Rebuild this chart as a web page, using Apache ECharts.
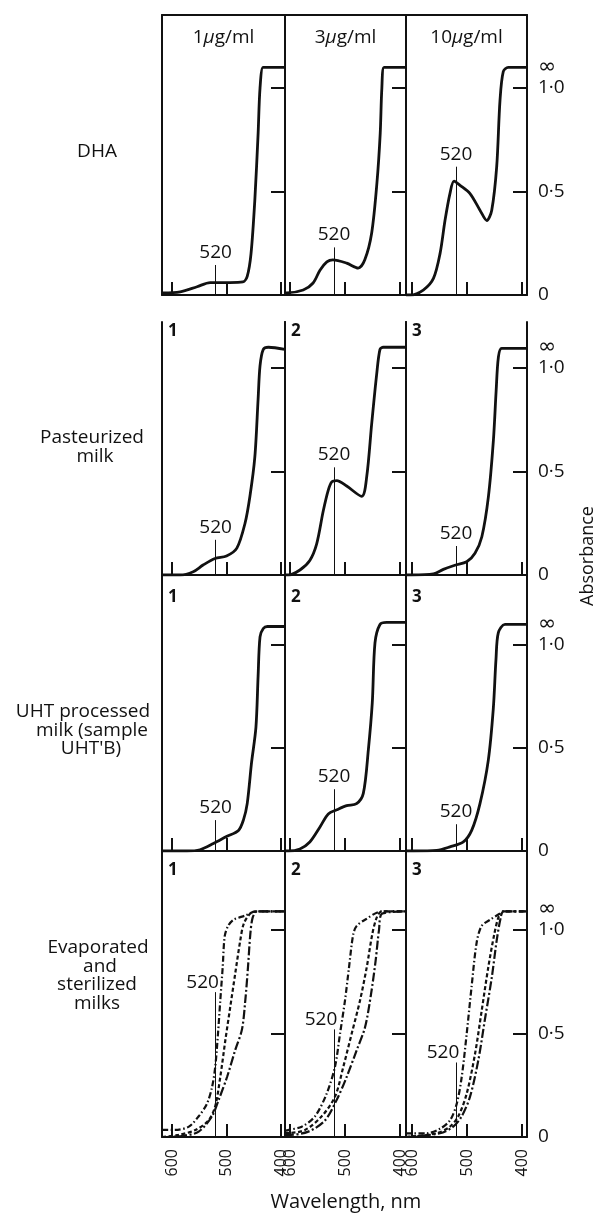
<!DOCTYPE html>
<html><head><meta charset="utf-8">
<script src="https://cdn.jsdelivr.net/npm/echarts@6/dist/echarts.min.js"></script>
<style>html,body{margin:0;padding:0;background:#fff}#c{width:598px;height:1216px}</style>
</head><body><div id="c"></div>
<script>
// ---------- tick labels / text ----------
const wavelengthTicks = [600, 500, 400];
const absorbanceTicks = [0, 0.5, 1.0, 1.1];
const absorbanceTickLabels = ['0', '0·5', '1·0', '{inf|∞}'];
const innerAbsTicks = [0.5, 1.0];
const markerWavelength = 520;
const columnHeaders = ['1{i|μ}g/ml', '3{i|μ}g/ml', '10{i|μ}g/ml'];
const panelNumbers = ['1', '2', '3'];
const rowLabels = [
  ['DHA'],
  ['Pasteurized', 'milk'],
  ['UHT processed', 'milk (sample', "UHT'B)"],
  ['Evaporated', 'and', 'sterilized', 'milks']
];
const xAxisName = 'Wavelength, nm';
const yAxisName = 'Absorbance';

// ---------- series values: [wavelength nm, absorbance] ----------
const dha1 = [[618,0.01],[616.5,0.01],[585,0.015],[554,0.04],[530,0.06],[515,0.06],[494,0.06],[470,0.063],[462,0.09],[455,0.2],[448,0.46],[442,0.78],[438.5,1.0],[433,1.1],[426,1.1],[393,1.1]];
const dha3 = [[609,0.01],[606,0.01],[576,0.024],[558,0.058],[545.5,0.12],[533,0.16],[522,0.17],[497,0.154],[476,0.13],[464,0.17],[451.5,0.30],[442,0.54],[436,0.78],[433,1.0],[429,1.1],[418,1.1],[389,1.1]];
const dha10 = [[611,0],[603.6,0],[579.5,0.024],[561,0.08],[549,0.20],[540,0.36],[531,0.49],[523.6,0.55],[512.7,0.53],[494.5,0.49],[476.4,0.41],[464,0.36],[455,0.41],[446,0.62],[440,0.94],[434,1.08],[425,1.1],[391,1.1]];

const past1 = [[618,0],[585,0],[561,0.016],[543,0.048],[521,0.08],[500,0.092],[481,0.13],[466,0.25],[457,0.38],[448,0.57],[442,0.85],[438.5,1.01],[432.5,1.09],[423,1.1],[393,1.09]];
const past2 = [[609,0],[603,0],[582,0.024],[564,0.07],[551.5,0.15],[539.5,0.31],[530.4,0.41],[524,0.45],[515,0.456],[497,0.43],[469.6,0.38],[460.5,0.475],[451.5,0.73],[442.4,0.97],[436.4,1.09],[430.4,1.1],[389,1.1]];
const past3 = [[611,0],[600.5,0],[561,0.005],[543,0.027],[522,0.047],[500.5,0.064],[485.5,0.105],[473,0.185],[461,0.38],[452,0.65],[447,0.89],[443,1.05],[437,1.095],[391,1.095]];

const uht1 = [[618,0],[573,0],[548.6,0.006],[524,0.036],[500,0.07],[478,0.10],[469,0.15],[462,0.23],[454,0.43],[446,0.60],[442,0.85],[438.5,1.04],[432.5,1.08],[425,1.09],[393,1.09]];
const uht2 = [[609,0],[603,0],[582,0.01],[564,0.044],[545.5,0.117],[530.4,0.18],[515,0.20],[497,0.22],[479,0.23],[466.7,0.28],[457.6,0.49],[450.4,0.72],[445.5,1.01],[436.4,1.10],[424,1.11],[389,1.11]];
const uht3 = [[611,0],[597.6,0],[555,0.003],[531,0.02],[506.7,0.044],[491.5,0.10],[476.4,0.23],[461.3,0.44],[452.2,0.69],[447.3,0.93],[443,1.06],[431,1.10],[391,1.10]];

const evapA1 = [[618,0.034],[594,0.034],[569,0.05],[551,0.10],[536,0.16],[526.6,0.24],[520.6,0.34],[515.6,0.50],[511.4,0.66],[507,0.82],[503.3,0.97],[497,1.02],[487,1.05],[465.5,1.07],[447,1.09],[393,1.09]];
const evapB1 = [[618,0],[588,0.01],[557,0.034],[533,0.08],[520.6,0.15],[511.4,0.29],[502,0.47],[493,0.63],[484,0.79],[474.7,0.95],[468.4,1.03],[456.3,1.08],[444,1.09],[393,1.09]];
const evapC1 = [[618,0],[582,0.005],[551,0.026],[526.6,0.10],[514.3,0.18],[499,0.29],[484,0.42],[471.6,0.52],[465.5,0.66],[460.6,0.82],[456.3,0.98],[452,1.06],[444,1.09],[393,1.09]];

const evapA2 = [[609,0.03],[603,0.034],[578.7,0.05],[554.5,0.10],[533.3,0.21],[518.2,0.34],[509,0.50],[500,0.66],[492.7,0.82],[485,0.98],[478.7,1.02],[463.6,1.05],[433.3,1.09],[389,1.09]];
const evapB2 = [[609,0.02],[603,0.02],[572.7,0.034],[542.4,0.10],[518.2,0.195],[503,0.34],[487.8,0.50],[472.7,0.66],[460.5,0.82],[450.4,0.98],[442.4,1.06],[433.3,1.09],[389,1.09]];
const evapC2 = [[609,0.01],[603,0.01],[566.7,0.026],[536.4,0.08],[515,0.18],[497,0.29],[478.7,0.42],[463.6,0.53],[452.7,0.69],[444.2,0.855],[438.2,1.0],[432.2,1.08],[389,1.09]];

const evapA3 = [[611,0.018],[573.3,0.018],[549,0.04],[531,0.08],[518.7,0.16],[509.6,0.29],[500.5,0.50],[491.5,0.73],[482.4,0.94],[473.3,1.02],[458,1.05],[440,1.08],[434,1.09],[391,1.09]];
const evapB3 = [[611,0],[555,0.018],[531,0.05],[515.8,0.10],[500.5,0.21],[485.5,0.40],[473.3,0.61],[461.3,0.82],[450.4,0.98],[443,1.06],[437,1.08],[434,1.09],[391,1.09]];
const evapC3 = [[611,0],[549,0.018],[525,0.05],[509.6,0.10],[494.5,0.195],[479.5,0.37],[467.3,0.57],[455,0.77],[446,0.95],[438.7,1.06],[434,1.09],[391,1.09]];

// height (absorbance) reached by the 520 nm marker line in each panel [row][col]
const markerTops = [[0.145,0.23,0.62],[0.17,0.52,0.14],[0.15,0.30,0.13],[0.70,0.52,0.36]];

// ---------- layout ----------
const FONT = '"Open Sans", Lato, sans-serif';
const INK = '#111';
const colLeft = [162, 285, 406], colWidth = [123, 121, 121];
const rowTop = [15, 322, 575, 851], rowHeight = [280, 253, 276, 286];
const xMaxs = [618.35, 609.1, 610.9], xMins = [392.66, 389.1, 390.9];
const yMaxs = [1.353, 1.222, 1.34, 1.382];

const singleRows = [[dha1, dha3, dha10], [past1, past2, past3], [uht1, uht2, uht3]];
const evapRows = [[evapA1, evapB1, evapC1], [evapA2, evapB2, evapC2], [evapA3, evapB3, evapC3]];
const evapDash = [[6,2.5,1.5,2.5],[4,2.5],[9,2.5,2,2.5]];

const grids = [], xAxes = [], yAxes = [], series = [], graphics = [];

for (let r = 0; r < 4; r++) {
  for (let c = 0; c < 3; c++) {
    const g = grids.length;
    grids.push({left: colLeft[c], top: rowTop[r], width: colWidth[c], height: rowHeight[r], containLabel: false});
    const xi = xAxes.length;
    xAxes.push({
      type: 'value', gridIndex: g, min: xMins[c], max: xMaxs[c], inverse: true, position: 'bottom',
      axisLine: {show: true, onZero: false, lineStyle: {color: INK, width: 2}},
      axisTick: {show: true, inside: true, length: 13, customValues: wavelengthTicks, lineStyle: {color: INK, width: 2}},
      axisLabel: {show: r === 3, rotate: 90, customValues: wavelengthTicks, margin: 12, fontSize: 16, color: INK, fontFamily: FONT},
      splitLine: {show: false}
    });
    if (r === 0) {
      xAxes.push({
        type: 'value', gridIndex: g, min: xMins[c], max: xMaxs[c], inverse: true, position: 'top',
        axisLine: {show: true, onZero: false, lineStyle: {color: INK, width: 2}},
        axisTick: {show: false}, axisLabel: {show: false}, splitLine: {show: false}
      });
    }
    yAxes.push({
      type: 'value', gridIndex: g, min: 0, max: yMaxs[r], position: 'left',
      axisLine: {show: true, onZero: false, lineStyle: {color: INK, width: 2}},
      axisTick: {show: false}, axisLabel: {show: false}, splitLine: {show: false}
    });
    const yi = yAxes.length;
    yAxes.push({
      type: 'value', gridIndex: g, min: 0, max: yMaxs[r], position: 'right',
      axisLine: {show: true, onZero: false, lineStyle: {color: INK, width: 2}},
      axisTick: {show: true, inside: true, length: 14, customValues: innerAbsTicks, lineStyle: {color: INK, width: 2}},
      axisLabel: {
        show: c === 2, customValues: absorbanceTicks, margin: 11, fontSize: 19, lineHeight: 16, color: INK, fontFamily: FONT,
        hideOverlap: false, showMaxLabel: true, showMinLabel: true,
        rich: {inf: {fontSize: 22, lineHeight: 12, fontFamily: 'DejaVu Sans', color: INK}},
        formatter: v => { const i = absorbanceTicks.findIndex(t => Math.abs(t - v) < 1e-6); return i >= 0 ? absorbanceTickLabels[i] : ''; }
      },
      splitLine: {show: false}
    });

    const markLine = {
      silent: true, symbol: ['none', 'none'], animation: false,
      lineStyle: {color: INK, width: 1, type: 'solid'},
      label: {show: true, position: 'end', formatter: String(markerWavelength), fontSize: 19, color: INK, fontFamily: FONT, distance: 3,
              offset: r === 3 ? [-13, 3] : [0, 0]},
      data: [[{coord: [markerWavelength, 0]}, {coord: [markerWavelength, markerTops[r][c]]}]]
    };

    if (r < 3) {
      series.push({type: 'line', xAxisIndex: xi, yAxisIndex: yi, data: singleRows[r][c], smooth: 0.3, showSymbol: false,
                   lineStyle: {color: INK, width: 2.8}, markLine});
    } else {
      evapRows[c].forEach((d, k) => {
        const s = {type: 'line', xAxisIndex: xi, yAxisIndex: yi, data: d, smooth: 0.3, showSymbol: false,
                   lineStyle: {color: INK, width: 2.2, type: evapDash[k]}};
        if (k === 0) s.markLine = markLine;
        series.push(s);
      });
    }

    // column headers (row 1) or panel numbers (other rows)
    if (r === 0) {
      graphics.push({type: 'text', x: colLeft[c] + colWidth[c] / 2, y: 38,
        style: {text: columnHeaders[c], fill: INK, font: '19px ' + FONT, align: 'center', verticalAlign: 'middle',
                rich: {i: {fontStyle: 'italic', fontSize: 19, fontFamily: FONT, fill: INK}}}});
    } else {
      const numY = [0, 331, 597, 870][r];
      graphics.push({type: 'text', x: colLeft[c] + 6, y: numY,
        style: {text: panelNumbers[c], fill: INK, font: 'bold 17px ' + FONT, align: 'left', verticalAlign: 'middle'}});
    }
  }
}

// row labels
const rowLabelX = [[97], [92, 95], [83, 92, 91], [98, 100, 97, 97]];
const rowLabelY0 = [152, 438, 712, 948];
rowLabels.forEach((lines, r) => {
  lines.forEach((t, k) => {
    graphics.push({type: 'text', x: rowLabelX[r][k], y: rowLabelY0[r] + k * 18.5,
      style: {text: t, fill: INK, font: '19px ' + FONT, align: 'center', verticalAlign: 'middle'}});
  });
});
graphics.push({type: 'text', x: 346, y: 1202, style: {text: xAxisName, fill: INK, font: '20px ' + FONT, align: 'center', verticalAlign: 'middle'}});
graphics.push({type: 'text', x: 588, y: 556, rotation: Math.PI / 2, style: {text: yAxisName, fill: INK, font: '18px ' + FONT, align: 'center', verticalAlign: 'middle'}});

const chart = echarts.init(document.getElementById('c'), null, {renderer: 'canvas'});
chart.setOption({
  backgroundColor: '#fff', animation: false,
  grid: grids, xAxis: xAxes, yAxis: yAxes, series, graphic: graphics
});
</script></body></html>
